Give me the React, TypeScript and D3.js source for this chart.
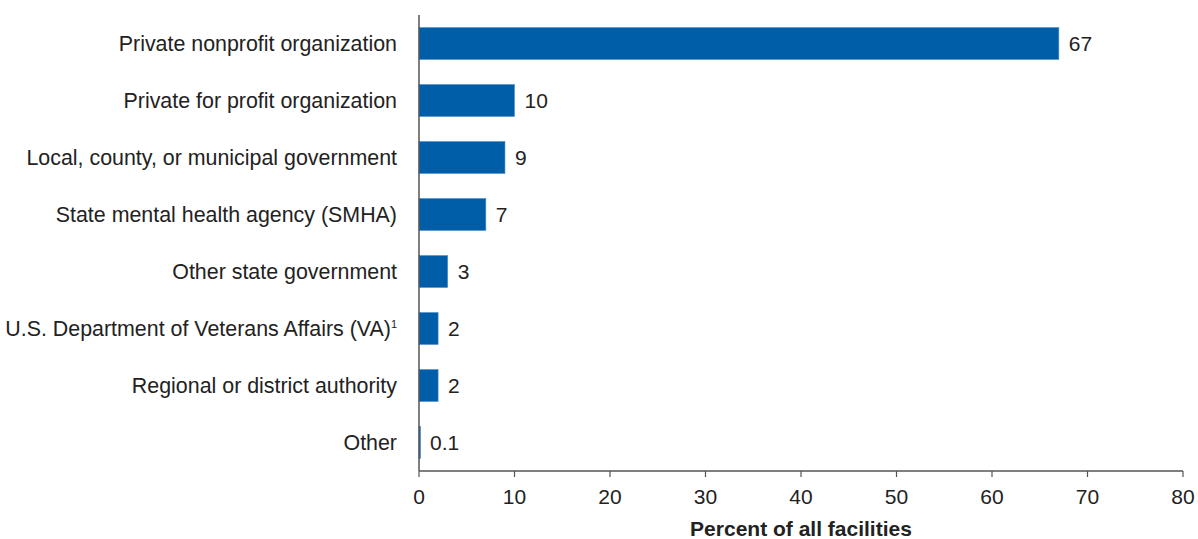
import React from "react";
import * as d3 from "d3";

const categories = [
  "Private nonprofit organization",
  "Private for profit organization",
  "Local, county, or municipal government",
  "State mental health agency (SMHA)",
  "Other state government",
  "U.S. Department of Veterans Affairs (VA)",
  "Regional or district authority",
  "Other",
];
const superscripts = ["", "", "", "", "", "1", "", ""];
const values = [67, 10, 9, 7, 3, 2, 2, 0.1];
const valueLabels = ["67", "10", "9", "7", "3", "2", "2", "0.1"];
const xTicks = [0, 10, 20, 30, 40, 50, 60, 70, 80];
const xTitle = "Percent of all facilities";

export default function App() {
  const W = 1198, H = 539;
  const x = d3.scaleLinear().domain([0, 80]).range([419, 1183]);
  const y = d3.scaleBand<string>().domain(categories).range([15, 471]).paddingInner(0.44).paddingOuter(0.22);
  const font = "'Liberation Sans', Arial, Helvetica, sans-serif";
  const axisColor = "#555";
  const fs = 21;
  const lfs = 21.4;
  return (
    <svg width={W} height={H} style={{ position: "absolute", left: 0, top: 0 }} fontFamily={font}>
      <rect width={W} height={H} fill="#fff" />
      {categories.map((c, i) => {
        const yy = y(c)!;
        const bw = y.bandwidth();
        return (
          <g key={c}>
            <rect x={x(0)} y={yy} width={Math.max(x(values[i]) - x(0), 1.5)} height={bw} fill="#005ea8" stroke="#4a8cc6" strokeWidth={0.6} />
            <text x={x(values[i]) + 10} y={yy + bw / 2} dy="0.35em" fontSize={fs} fill="#222">{valueLabels[i]}</text>
            <text x={397} y={yy + bw / 2} dy="0.35em" fontSize={lfs} fill="#222" textAnchor="end">
              {c}
              {superscripts[i] ? <tspan fontSize={11} dy="-0.7em">{superscripts[i]}</tspan> : null}
            </text>
          </g>
        );
      })}
      <line x1={x(0)} x2={x(0)} y1={15} y2={471} stroke={axisColor} strokeWidth={1.5} />
      <line x1={x(0)} x2={x(80)} y1={471} y2={471} stroke={axisColor} strokeWidth={1.5} />
      {xTicks.map((t) => (
        <g key={t}>
          <line x1={x(t)} x2={x(t)} y1={471} y2={477} stroke={axisColor} strokeWidth={1.2} />
          <text x={x(t)} y={497} dy="0.35em" textAnchor="middle" fontSize={fs} fill="#222">{t}</text>
        </g>
      ))}
      <text x={(x(0) + x(80)) / 2} y={529} dy="0.35em" textAnchor="middle" fontSize={fs} fontWeight="bold" fill="#222">{xTitle}</text>
    </svg>
  );
}
